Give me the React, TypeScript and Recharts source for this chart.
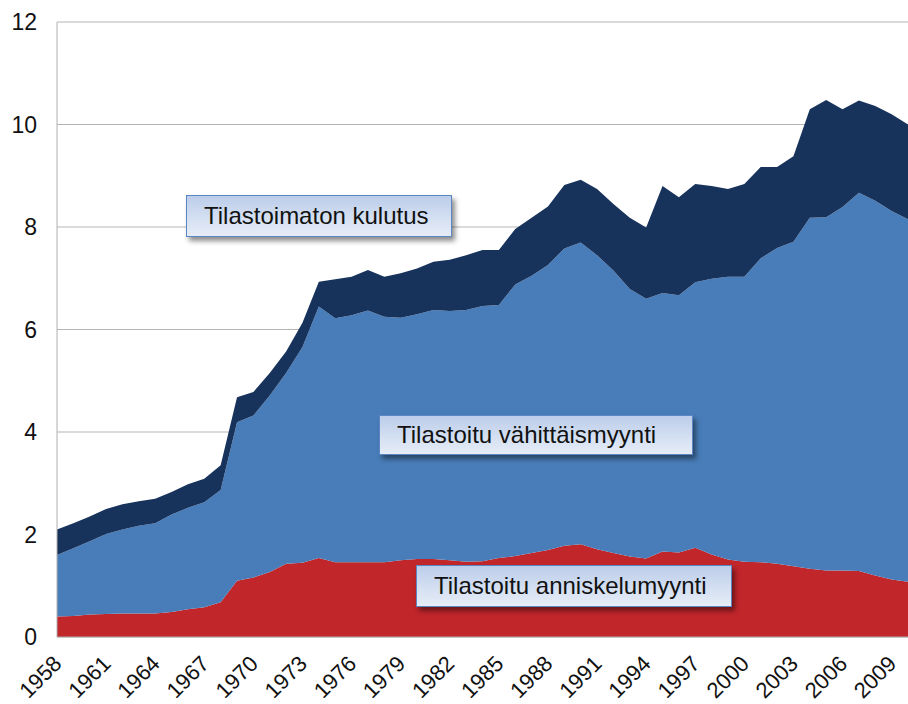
import { AreaChart, Area, XAxis, YAxis, CartesianGrid } from "recharts";

const years = [
  1958, 1959, 1960, 1961, 1962, 1963, 1964, 1965, 1966, 1967, 1968, 1969, 1970,
  1971, 1972, 1973, 1974, 1975, 1976, 1977, 1978, 1979, 1980, 1981, 1982, 1983,
  1984, 1985, 1986, 1987, 1988, 1989, 1990, 1991, 1992, 1993, 1994, 1995, 1996,
  1997, 1998, 1999, 2000, 2001, 2002, 2003, 2004, 2005, 2006, 2007, 2008, 2009,
  2010,
];

// Tilastoitu anniskelumyynti (bottom layer)
const anniskelu = [
  0.4, 0.41, 0.44, 0.45, 0.46, 0.46, 0.46, 0.49, 0.54, 0.58, 0.68, 1.1, 1.16,
  1.27, 1.43, 1.45, 1.54, 1.46, 1.46, 1.46, 1.46, 1.5, 1.52, 1.52, 1.5, 1.47,
  1.48, 1.54, 1.58, 1.64, 1.7, 1.78, 1.81, 1.71, 1.64, 1.57, 1.53, 1.67, 1.65,
  1.74, 1.61, 1.51, 1.47, 1.46, 1.43, 1.38, 1.33, 1.3, 1.3, 1.29, 1.2, 1.12,
  1.08,
];

// Tilastoitu vähittäismyynti (middle layer)
const vahittais = [
  1.2, 1.32, 1.43, 1.56, 1.64, 1.71, 1.76, 1.9, 1.98, 2.05, 2.19, 3.09, 3.16,
  3.44, 3.72, 4.21, 4.91, 4.76, 4.82, 4.91, 4.79, 4.73, 4.78, 4.86, 4.86, 4.91,
  4.98, 4.94, 5.3, 5.41, 5.56, 5.8, 5.89, 5.74, 5.51, 5.22, 5.07, 5.04, 5.02,
  5.18, 5.38, 5.52, 5.56, 5.93, 6.16, 6.33, 6.85, 6.89, 7.09, 7.38, 7.31, 7.19,
  7.07,
];

// Tilastoimaton kulutus (top layer)
const tilastoimaton = [
  0.5, 0.49, 0.48, 0.49, 0.49, 0.48, 0.48, 0.44, 0.46, 0.46, 0.48, 0.49, 0.46,
  0.44, 0.42, 0.47, 0.48, 0.76, 0.75, 0.79, 0.78, 0.87, 0.89, 0.94, 1.0, 1.07,
  1.09, 1.07, 1.08, 1.13, 1.14, 1.24, 1.22, 1.29, 1.3, 1.39, 1.39, 2.09, 1.91,
  1.92, 1.81, 1.71, 1.81, 1.78, 1.58, 1.67, 2.12, 2.29, 1.91, 1.8, 1.85, 1.89,
  1.85,
];

const xTicks = [
  1958, 1961, 1964, 1967, 1970, 1973, 1976, 1979, 1982, 1985, 1988, 1991, 1994,
  1997, 2000, 2003, 2006, 2009,
];
const yTicks = [0, 2, 4, 6, 8, 10, 12];

const data = years.map((year, i) => ({
  year,
  anniskelu: anniskelu[i],
  vahittais: vahittais[i],
  tilastoimaton: tilastoimaton[i],
}));

const FONT = '"Liberation Sans", Arial, Helvetica, sans-serif';

function YearTick({ x, y, payload }: any) {
  return (
    <g transform={`translate(${x + 6},${y + 28})`}>
      <text
        x={0}
        y={0}
        textAnchor="end"
        transform="rotate(-45)"
        fontSize={22}
        fontFamily={FONT}
        fill="#111"
      >
        {payload.value}
      </text>
    </g>
  );
}

function Note({
  left,
  top,
  width,
  height,
  text,
}: {
  left: number;
  top: number;
  width: number;
  height: number;
  text: string;
}) {
  return (
    <div
      style={{
        position: "absolute",
        left,
        top,
        width,
        height,
        boxSizing: "border-box",
        border: "1.5px solid #5a86c4",
        background: "linear-gradient(180deg, #bccdea 0%, #d6e1f2 60%, #e6ecf7 100%)",
        boxShadow: "3px 4px 5px rgba(0,0,0,0.45)",
        fontFamily: FONT,
        fontSize: 24,
        color: "#111",
        lineHeight: `${height - 3}px`,
        paddingLeft: 17,
        whiteSpace: "nowrap",
      }}
    >
      {text}
    </div>
  );
}

export default function App() {
  return (
    <div style={{ position: "absolute", left: 0, top: 0, width: 908, height: 704, background: "#fff" }}>
      <AreaChart
        width={908}
        height={704}
        data={data}
        margin={{ top: 22, right: 0, left: 0, bottom: 0 }}
      >
        <CartesianGrid vertical={false} stroke="#b5b5b5" strokeWidth={1} />
        <XAxis
          dataKey="year"
          type="number"
          domain={[1958, 2010]}
          ticks={xTicks}
          interval={0}
          height={67}
          tickLine={false}
          tickSize={0}
          tickMargin={0}
          axisLine={{ stroke: "#b0b0b0" }}
          tick={<YearTick />}
        />
        <YAxis
          domain={[0, 12]}
          ticks={yTicks}
          width={57}
          tickLine={false}
          tickSize={0}
          tickMargin={20}
          axisLine={{ stroke: "#b0b0b0" }}
          tick={{ fontSize: 23, fill: "#111", fontFamily: FONT }}
        />
        <Area
          type="linear"
          dataKey="anniskelu"
          stackId="1"
          stroke="none"
          fill="#c1262b"
          fillOpacity={1}
          isAnimationActive={false}
        />
        <Area
          type="linear"
          dataKey="vahittais"
          stackId="1"
          stroke="none"
          fill="#497db9"
          fillOpacity={1}
          isAnimationActive={false}
        />
        <Area
          type="linear"
          dataKey="tilastoimaton"
          stackId="1"
          stroke="none"
          fill="#17325b"
          fillOpacity={1}
          isAnimationActive={false}
        />
      </AreaChart>
      <Note left={186} top={195} width={266} height={42} text="Tilastoimaton kulutus" />
      <Note left={379} top={415} width={314} height={40} text="Tilastoitu vähittäismyynti" />
      <Note left={416} top={565} width={316} height={42} text="Tilastoitu anniskelumyynti" />
    </div>
  );
}
